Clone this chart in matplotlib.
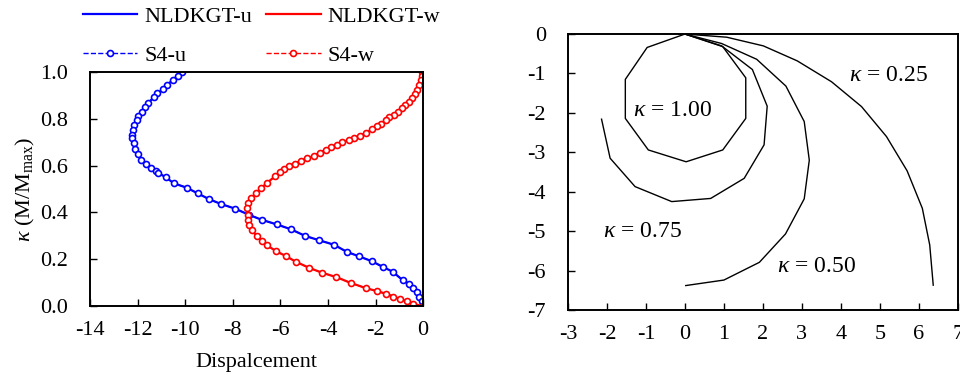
import numpy as np
import matplotlib
matplotlib.use("Agg")
import matplotlib.pyplot as plt

plt.rcParams['font.family'] = ['Liberation Serif', 'DejaVu Serif']
plt.rcParams['mathtext.fontset'] = 'custom'
plt.rcParams['mathtext.rm'] = 'Liberation Serif'
plt.rcParams['mathtext.it'] = 'Liberation Serif:italic'
plt.rcParams['axes.unicode_minus'] = False
plt.rcParams['xtick.direction'] = 'in'
plt.rcParams['ytick.direction'] = 'in'

# left panel: displacement u / w against kappa
u_x = [-10.15, -10.31, -10.51, -10.78, -10.92, -11.17, -11.31, -11.55, -11.69, -11.83,
       -11.97, -12.04, -12.14, -12.21, -12.25, -12.22, -12.14, -12.11, -12.00, -11.86,
       -11.66, -11.44, -11.23, -11.13, -10.82, -10.46, -9.94, -9.48, -9.00, -8.49,
       -7.89, -7.30, -6.76, -6.15, -5.55, -4.96, -4.36, -3.74, -3.21, -2.68,
       -2.16, -1.70, -1.28, -0.86, -0.58, -0.41, -0.27, -0.16, -0.06, 0.0]
u_k = [1.000, 0.985, 0.966, 0.944, 0.926, 0.909, 0.892, 0.869, 0.852, 0.830,
       0.812, 0.795, 0.774, 0.752, 0.731, 0.717, 0.695, 0.670, 0.650, 0.624,
       0.607, 0.588, 0.577, 0.570, 0.550, 0.524, 0.506, 0.482, 0.457, 0.436,
       0.416, 0.389, 0.368, 0.349, 0.328, 0.300, 0.281, 0.262, 0.232, 0.212,
       0.192, 0.168, 0.147, 0.111, 0.094, 0.076, 0.059, 0.040, 0.023, 0.0]

w_x = [-0.06, -0.06, -0.10, -0.18, -0.25, -0.36, -0.48, -0.60, -0.76, -0.90,
       -1.07, -1.24, -1.42, -1.56, -1.77, -1.94, -2.15, -2.40, -2.64, -2.89,
       -3.11, -3.39, -3.63, -3.88, -4.09, -4.35, -4.59, -4.87, -5.15, -5.40,
       -5.62, -5.83, -6.00, -6.23, -6.55, -6.82, -7.04, -7.23, -7.36, -7.39,
       -7.36, -7.36, -7.30, -7.19, -7.00, -6.79, -6.55, -6.17, -5.75, -5.36,
       -4.80, -4.26, -3.65, -3.04, -2.41, -1.94, -1.56, -1.25, -0.97, -0.69,
       -0.44, 0.0]
w_k = [1.000, 0.981, 0.964, 0.945, 0.924, 0.905, 0.888, 0.874, 0.859, 0.845,
       0.831, 0.816, 0.806, 0.795, 0.780, 0.769, 0.755, 0.741, 0.727, 0.720,
       0.710, 0.699, 0.689, 0.679, 0.667, 0.656, 0.642, 0.631, 0.620, 0.609,
       0.599, 0.586, 0.574, 0.554, 0.527, 0.503, 0.482, 0.460, 0.439, 0.421,
       0.389, 0.367, 0.346, 0.324, 0.300, 0.280, 0.259, 0.234, 0.213, 0.190,
       0.164, 0.143, 0.124, 0.099, 0.077, 0.064, 0.053, 0.041, 0.031, 0.021,
       0.010, 0.0]

# right panel: deformed shapes for each kappa
k100_x = [0.0, -0.97, -1.53, -1.53, -0.94, 0.03, 0.97, 1.56, 1.56, 0.97, 0.0]
k100_y = [0.0, -0.34, -1.15, -2.14, -2.94, -3.24, -2.94, -2.14, -1.11, -0.32, 0.0]
k075_x = [0.0, 0.94, 1.73, 2.11, 2.03, 1.52, 0.66, -0.34, -1.28, -1.92, -2.14]
k075_y = [0.0, -0.30, -0.90, -1.83, -2.81, -3.66, -4.17, -4.25, -3.87, -3.15, -2.16]
k050_x = [0.0, 0.94, 1.84, 2.59, 3.06, 3.19, 3.06, 2.58, 1.91, 1.00, 0.02]
k050_y = [0.0, -0.24, -0.64, -1.32, -2.22, -3.20, -4.18, -5.07, -5.79, -6.24, -6.38]
k025_x = [0.0, 1.07, 2.01, 2.88, 3.76, 4.53, 5.17, 5.70, 6.09, 6.28, 6.37]
k025_y = [0.0, -0.08, -0.30, -0.68, -1.21, -1.84, -2.60, -3.47, -4.42, -5.35, -6.37]

fig = plt.figure(figsize=(9.6, 3.77), dpi=100)
ax1 = fig.add_axes([0.09375, 0.188, 0.347, 0.621])
ax2 = fig.add_axes([0.5917, 0.1777, 0.406, 0.732])

fs = 16
l1, = ax1.plot(u_x, u_k, '-', color='#0000ff', lw=1.6, label='NLDKGT-u')
l2, = ax1.plot(w_x, w_k, '-', color='#ff0000', lw=1.6, label='NLDKGT-w')
l3, = ax1.plot(u_x, u_k, '--', color='#0000ff', lw=1.0, marker='o', ms=4.3, mfc='white',
               mew=1.2, label='S4-u')
l4, = ax1.plot(w_x, w_k, '--', color='#ff0000', lw=1.0, marker='o', ms=4.3, mfc='white',
               mew=1.2, label='S4-w')
ax1.set_xlim(-14, 0)
ax1.set_ylim(0, 1)
ax1.set_xticks(np.arange(-14, 1, 2))
ax1.set_yticks(np.arange(0, 1.01, 0.2))
ax1.set_yticklabels(['%.1f' % v for v in np.arange(0, 1.01, 0.2)])
ax1.set_xlabel('Dispalcement', fontsize=fs, labelpad=9)
ax1.set_ylabel(r'$\kappa$ (M/M$_{\mathrm{max}}$)', fontsize=fs, labelpad=2)
ax1.tick_params(axis='x', labelsize=fs, length=5, width=1, pad=11)
ax1.tick_params(axis='y', labelsize=fs, length=5, width=1, pad=16)
fig.legend([l1, l3, l2, l4], ['NLDKGT-u', 'S4-u', 'NLDKGT-w', 'S4-w'], ncol=2,
           loc='upper left', bbox_to_anchor=(83 / 960, 1 - 6 / 377), frameon=False,
           fontsize=fs, handlelength=2.45, handletextpad=0.3, columnspacing=0.64,
           numpoints=1, borderpad=0.0, borderaxespad=0.0, labelspacing=0.85)

for xs, ys in [(k100_x, k100_y), (k075_x, k075_y), (k050_x, k050_y), (k025_x, k025_y)]:
    ax2.plot(xs, ys, '-', color='black', lw=1.0)
ax2.set_xlim(-3, 7)
ax2.set_ylim(-7, 0)
ax2.set_xticks(np.arange(-3, 8, 1))
ax2.set_yticks(np.arange(-7, 1, 1))
ax2.tick_params(axis='x', labelsize=fs, length=5, width=1, pad=11)
ax2.tick_params(axis='y', labelsize=fs, length=5, width=1, pad=16)
fa = 17
ax2.text(4.2, -1.05, r'$\kappa$ = 0.25', fontsize=fa, va='center')
ax2.text(-1.33, -1.93, r'$\kappa$ = 1.00', fontsize=fa, va='center')
ax2.text(-2.1, -5.0, r'$\kappa$ = 0.75', fontsize=fa, va='center')
ax2.text(2.36, -5.9, r'$\kappa$ = 0.50', fontsize=fa, va='center')

for ax in (ax1, ax2):
    for s in ax.spines.values():
        s.set_linewidth(1.4)

fig.savefig('out.png', dpi=100)
